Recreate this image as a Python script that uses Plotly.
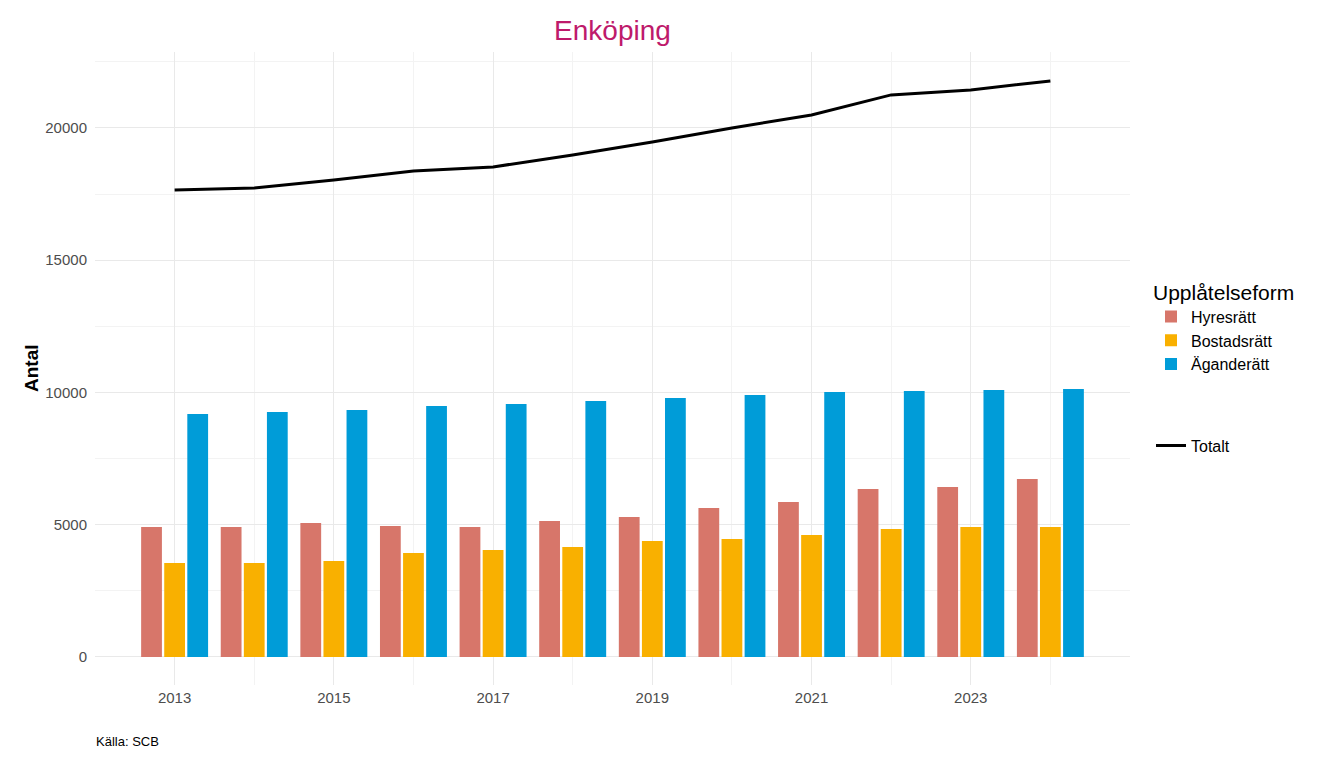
import plotly.graph_objects as go

years = [2013, 2014, 2015, 2016, 2017, 2018, 2019, 2020, 2021, 2022, 2023, 2024]
hyresratt = [4915, 4915, 5066, 4953, 4915, 5142, 5293, 5633, 5860, 6352, 6427, 6730]
bostadsratt = [3554, 3554, 3630, 3932, 4045, 4159, 4386, 4461, 4612, 4839, 4915, 4915]
aganderatt = [9187, 9263, 9338, 9490, 9565, 9679, 9792, 9905, 10019, 10057, 10094, 10132]
totalt = [h + b + a for h, b, a in zip(hyresratt, bostadsratt, aganderatt)]
x_ticks = [2013, 2015, 2017, 2019, 2021, 2023]
y_ticks = [0, 5000, 10000, 15000, 20000]

colors = {"Hyresrätt": "#D7766A", "Bostadsrätt": "#F9B000", "Äganderätt": "#009CD8"}
FONT = "Liberation Sans, Arial, sans-serif"

# page body has an 8px default margin; compensate
OFF = 8
L, T, PW, PH = 95 - OFF, 52 - OFF, 1035, 633
W, H = 1344, 768

fig = go.Figure()
for name, vals in [("Hyresrätt", hyresratt), ("Bostadsrätt", bostadsratt), ("Äganderätt", aganderatt)]:
    fig.add_trace(go.Bar(x=years, y=vals, name=name, marker=dict(color=colors[name], line=dict(width=0)),
                         legend="legend"))
fig.add_trace(go.Scatter(x=years, y=totalt, name="Totalt", mode="lines",
                         line=dict(color="black", width=3), legend="legend2"))

grid_major = "#E9E9E9"
grid_minor = "#F3F3F3"

fig.update_layout(
    width=W, height=H,
    paper_bgcolor="white", plot_bgcolor="white",
    font=dict(family=FONT, color="#4D4D4D", size=15),
    margin=dict(l=L, r=W - L - PW, t=T, b=H - T - PH, autoexpand=False),
    barmode="group", bargap=0.13, bargroupgap=0.1,
    title=dict(text="Enköping", x=(L + PW / 2) / W, xanchor="center", y=1 - (30 - OFF) / H, yanchor="middle",
               font=dict(family=FONT, size=28, color="#BE1A6B")),
    xaxis=dict(range=[2012, 2025], tickvals=x_ticks, ticktext=[str(v) for v in x_ticks],
               showgrid=True, gridcolor=grid_major, gridwidth=1.4, automargin=False,
               zeroline=False, showline=False, ticks="", ticklabelstandoff=2,
               tickfont=dict(size=15, color="#4D4D4D"),
               minor=dict(tickvals=years, showgrid=True, gridcolor=grid_minor, gridwidth=1)),
    yaxis=dict(range=[-1060, 22870], tickvals=y_ticks, ticktext=[str(v) for v in y_ticks],
               showgrid=True, gridcolor=grid_major, gridwidth=1.4, automargin=False,
               zeroline=False, showline=False, ticks="", ticklabelstandoff=7,
               tickfont=dict(size=15, color="#4D4D4D"),
               minor=dict(tickvals=[2500, 7500, 12500, 17500, 22500], showgrid=True,
                          gridcolor=grid_minor, gridwidth=1)),
    legend=dict(x=1 + (1151 - 1130) / PW, xanchor="left", y=0.652, yanchor="top",
                title=dict(text="Upplåtelseform", font=dict(size=21, color="black")),
                font=dict(size=16, color="black"), bgcolor="rgba(0,0,0,0)", tracegroupgap=0,
                itemsizing="constant"),
    legend2=dict(x=1 + (1151 - 1130) / PW, xanchor="left", y=0.405, yanchor="top",
                 font=dict(size=16, color="black"), bgcolor="rgba(0,0,0,0)"),
    annotations=[
        dict(text="Källa: SCB", xref="paper", yref="paper", x=-0.001, y=-(741 - 685) / PH,
             xanchor="left", yanchor="middle", showarrow=False,
             font=dict(family=FONT, size=13, color="black")),
        dict(text="<b>Antal</b>", xref="paper", yref="paper", x=-(95 - 31) / PW, y=(685 - 368) / PH,
             xanchor="center", yanchor="middle", showarrow=False, textangle=-90,
             font=dict(family=FONT, size=19, color="black")),
    ],
)

fig.write_html("out.html")
